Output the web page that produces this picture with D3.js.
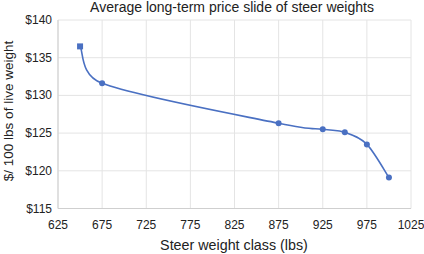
<!DOCTYPE html>
<html>
<head>
<meta charset="utf-8">
<script src="https://cdn.jsdelivr.net/npm/d3@7"></script>
<style>
  body { margin: 0; background: #fff; }
  text { font-family: "Liberation Sans", Arial, sans-serif; fill: #222; }
</style>
</head>
<body>
<div id="chart"></div>
<script>
const weights = [650, 675, 875, 925, 950, 975, 1000];
const prices = [136.5, 131.6, 126.3, 125.5, 125.1, 123.5, 119.1];
const xTicks = [625, 675, 725, 775, 825, 875, 925, 975, 1025];
const yTicks = [115, 120, 125, 130, 135, 140];

const W = 424, H = 254;
const margin = {top: 20, right: 13, bottom: 45.5, left: 58};
const width = W - margin.left - margin.right;
const height = H - margin.top - margin.bottom;

const svg = d3.select("#chart").append("svg")
    .attr("width", W)
    .attr("height", H);

const g = svg.append("g")
    .attr("transform", "translate(" + margin.left + "," + margin.top + ")");

const x = d3.scaleLinear().domain([625, 1025]).range([0, width]);
const y = d3.scaleLinear().domain([115, 140]).range([height, 0]);

// grid
g.selectAll(".vgrid").data(xTicks).enter().append("line")
    .attr("x1", d => x(d)).attr("x2", d => x(d))
    .attr("y1", 0).attr("y2", height)
    .style("stroke", "#e4e4e4").style("stroke-width", 1);
g.selectAll(".hgrid").data(yTicks).enter().append("line")
    .attr("x1", 0).attr("x2", width)
    .attr("y1", d => y(d)).attr("y2", d => y(d))
    .style("stroke", "#e4e4e4").style("stroke-width", 1);

// axis lines
g.append("line").attr("x1", 0).attr("x2", 0).attr("y1", 0).attr("y2", height)
    .style("stroke", "#cfcfcf");
g.append("line").attr("x1", 0).attr("x2", width).attr("y1", height).attr("y2", height)
    .style("stroke", "#cfcfcf");

// tick labels
g.selectAll(".xl").data(xTicks).enter().append("text")
    .attr("x", d => x(d)).attr("y", height + 20)
    .attr("text-anchor", "middle")
    .style("font-size", "12px")
    .text(d => d);
g.selectAll(".yl").data(yTicks).enter().append("text")
    .attr("x", -6).attr("y", d => y(d) + 4)
    .attr("text-anchor", "end")
    .style("font-size", "12px")
    .text(d => "$" + d);

// smoothed line, Catmull-Rom style but control points kept inside each segment
function smoothPath(pts) {
    const p = d3.path();
    p.moveTo(pts[0][0], pts[0][1]);
    for (let i = 0; i < pts.length - 1; i++) {
        const p0 = pts[Math.max(i - 1, 0)], p1 = pts[i], p2 = pts[i + 1], p3 = pts[Math.min(i + 2, pts.length - 1)];
        let t1 = [(p2[0] - p0[0]) / 6, (p2[1] - p0[1]) / 6];
        let t2 = [(p3[0] - p1[0]) / 6, (p3[1] - p1[1]) / 6];
        const dx = p2[0] - p1[0];
        if (t1[0] > dx) { const k = dx / t1[0]; t1 = [t1[0] * k, t1[1] * k]; }
        if (t2[0] > dx) { const k = dx / t2[0]; t2 = [t2[0] * k, t2[1] * k]; }
        p.bezierCurveTo(p1[0] + t1[0], p1[1] + t1[1], p2[0] - t2[0], p2[1] - t2[1], p2[0], p2[1]);
    }
    return p.toString();
}

const pts = weights.map((w, i) => [x(w), y(prices[i])]);

g.append("path")
    .attr("fill", "none")
    .style("stroke", "#4a70c2")
    .style("stroke-width", 1.6)
    .attr("d", smoothPath(pts));

// markers
g.append("rect")
    .attr("x", x(weights[0]) - 3).attr("y", y(prices[0]) - 3)
    .attr("width", 6).attr("height", 6)
    .style("fill", "#4a70c2");
g.selectAll(".pt").data(prices.slice(1)).enter().append("circle")
    .attr("cx", (d, i) => x(weights[i + 1]))
    .attr("cy", d => y(d))
    .attr("r", 3)
    .style("fill", "#4a70c2");

// titles
svg.append("text")
    .attr("x", 232).attr("y", 11.5)
    .attr("text-anchor", "middle")
    .style("font-size", "14px")
    .text("Average long-term price slide of steer weights");

svg.append("text")
    .attr("x", 234).attr("y", 250)
    .attr("text-anchor", "middle")
    .style("font-size", "14.3px")
    .text("Steer weight class (lbs)");

svg.append("text")
    .attr("transform", "translate(13,111) rotate(-90)")
    .attr("text-anchor", "middle")
    .style("font-size", "13.5px")
    .text("$/ 100 lbs of live weight");
</script>
</body>
</html>
